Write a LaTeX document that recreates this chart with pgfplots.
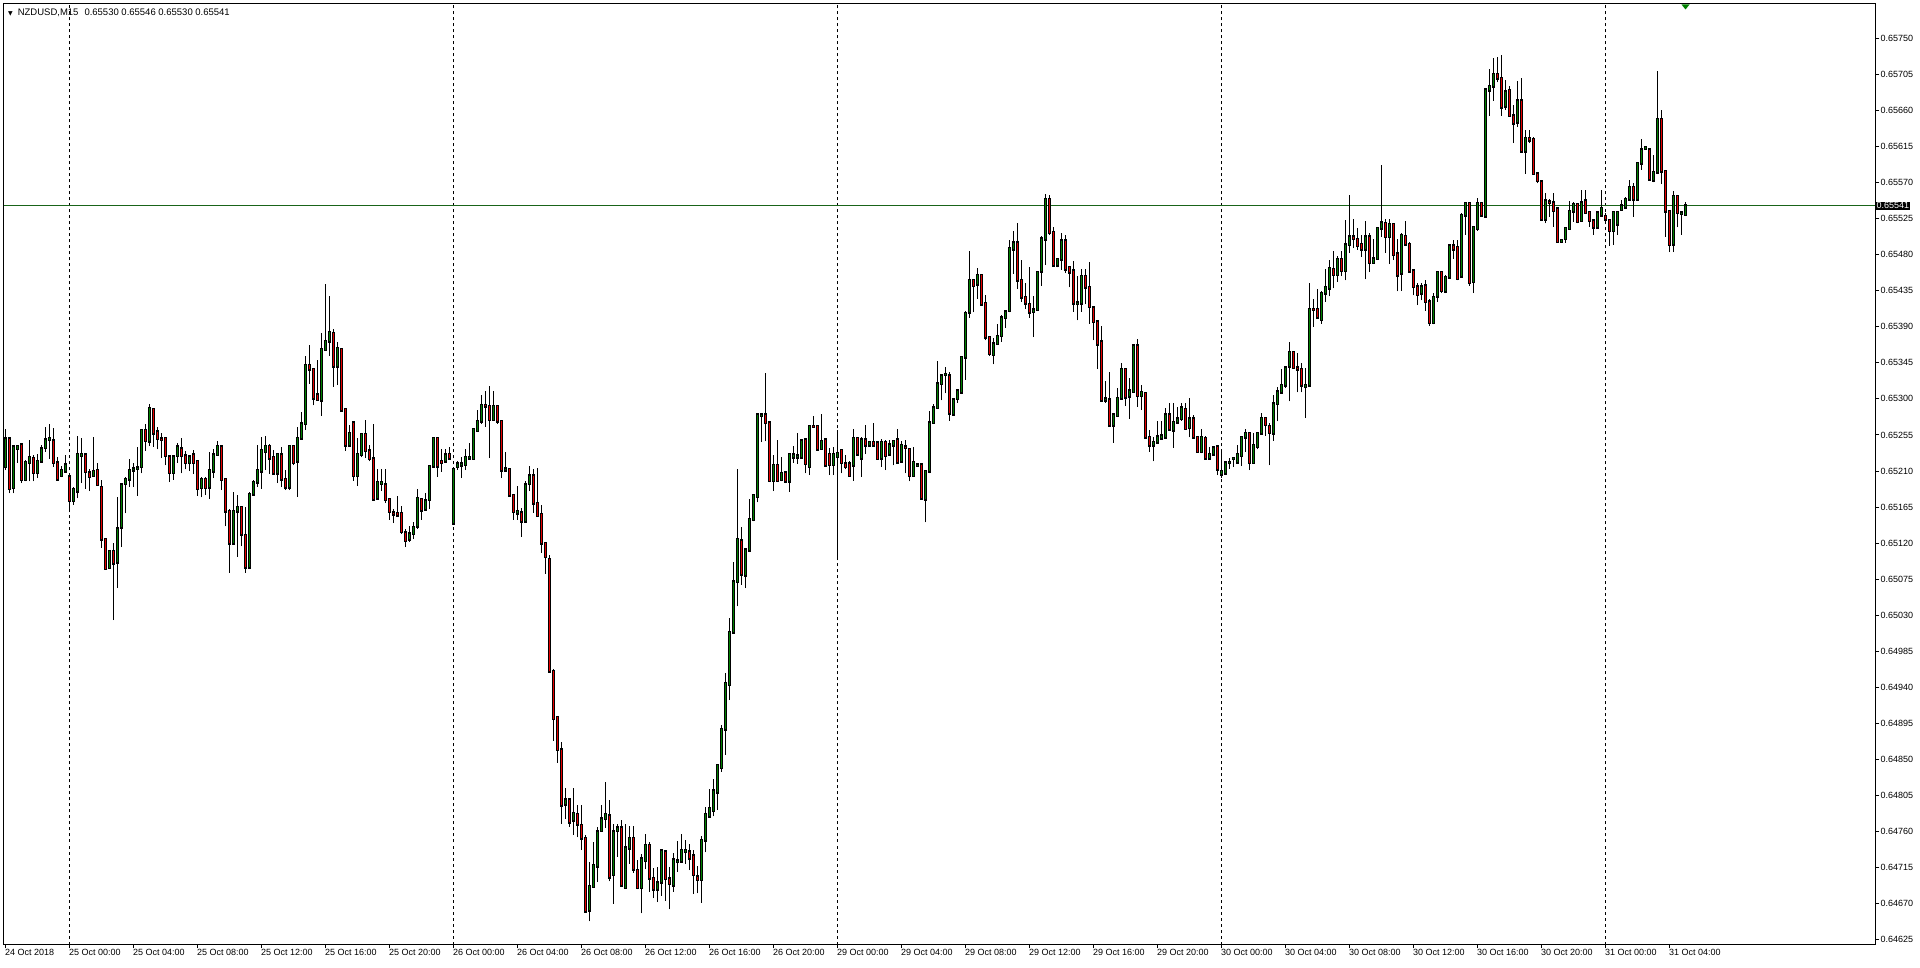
\documentclass[border=0pt]{standalone}
\usepackage{fontspec}
\setmainfont{Liberation Sans}
\newfontfamily\symfont{DejaVu Sans}
\usepackage{pgfplots}
\usepackage{pgfplotstable}
\pgfplotsset{compat=1.18}
\definecolor{bull}{RGB}{0,128,0}
\definecolor{bear}{RGB}{230,0,0}
\definecolor{pline}{RGB}{25,100,25}
\pgfplotstableread{
i o h l c
-16 0.65215 0.65262 0.65211 0.65250
-15 0.65250 0.65251 0.65182 0.65188
-14 0.65189 0.65242 0.65182 0.65240
-13 0.65238 0.65243 0.65220 0.65241
-12 0.65243 0.65244 0.65195 0.65199
-11 0.65199 0.65224 0.65197 0.65221
-10 0.65220 0.65249 0.65197 0.65227
-9 0.65226 0.65230 0.65197 0.65208
-8 0.65208 0.65231 0.65201 0.65222
-7 0.65222 0.65242 0.65220 0.65238
-6 0.65239 0.65265 0.65234 0.65249
-5 0.65249 0.65269 0.65225 0.65251
-4 0.65248 0.65264 0.65215 0.65220
-3 0.65220 0.65227 0.65198 0.65200
-2 0.65204 0.65216 0.65202 0.65211
-1 0.65210 0.65230 0.65209 0.65218
0 0.65203 0.65204 0.65159 0.65173
1 0.65173 0.65190 0.65168 0.65187
2 0.65185 0.65254 0.65176 0.65231
3 0.65229 0.65251 0.65195 0.65231
4 0.65230 0.65231 0.65188 0.65209
5 0.65208 0.65212 0.65185 0.65203
6 0.65204 0.65252 0.65203 0.65210
7 0.65211 0.65220 0.65193 0.65193
8 0.65190 0.65199 0.65114 0.65125
9 0.65125 0.65127 0.65087 0.65088
10 0.65089 0.65111 0.65088 0.65110
11 0.65110 0.65120 0.65024 0.65095
12 0.65096 0.65177 0.65064 0.65138
13 0.65140 0.65195 0.65115 0.65193
14 0.65194 0.65203 0.65157 0.65200
15 0.65200 0.65225 0.65190 0.65211
16 0.65211 0.65220 0.65190 0.65213
17 0.65213 0.65240 0.65179 0.65214
18 0.65215 0.65262 0.65207 0.65261
19 0.65261 0.65269 0.65235 0.65248
20 0.65247 0.65294 0.65241 0.65288
21 0.65287 0.65288 0.65240 0.65257
22 0.65259 0.65265 0.65237 0.65250
23 0.65250 0.65257 0.65226 0.65249
24 0.65251 0.65252 0.65217 0.65229
25 0.65228 0.65229 0.65196 0.65208
26 0.65208 0.65229 0.65199 0.65228
27 0.65229 0.65245 0.65220 0.65240
28 0.65238 0.65251 0.65207 0.65229
29 0.65229 0.65235 0.65212 0.65220
30 0.65220 0.65230 0.65210 0.65228
31 0.65230 0.65236 0.65206 0.65220
32 0.65222 0.65224 0.65179 0.65188
33 0.65189 0.65202 0.65177 0.65200
34 0.65200 0.65202 0.65180 0.65189
35 0.65190 0.65234 0.65175 0.65211
36 0.65210 0.65238 0.65201 0.65230
37 0.65230 0.65247 0.65229 0.65241
38 0.65240 0.65241 0.65186 0.65199
39 0.65200 0.65201 0.65141 0.65160
40 0.65160 0.65163 0.65083 0.65120
41 0.65120 0.65184 0.65118 0.65160
42 0.65160 0.65180 0.65103 0.65165
43 0.65165 0.65166 0.65116 0.65131
44 0.65130 0.65165 0.65083 0.65090
45 0.65090 0.65184 0.65089 0.65181
46 0.65181 0.65199 0.65179 0.65196
47 0.65196 0.65242 0.65190 0.65211
48 0.65210 0.65253 0.65188 0.65236
49 0.65234 0.65254 0.65211 0.65241
50 0.65241 0.65244 0.65206 0.65226
51 0.65227 0.65236 0.65206 0.65207
52 0.65207 0.65233 0.65195 0.65231
53 0.65230 0.65240 0.65190 0.65200
54 0.65200 0.65211 0.65186 0.65190
55 0.65190 0.65242 0.65186 0.65241
56 0.65241 0.65242 0.65217 0.65220
57 0.65222 0.65265 0.65178 0.65251
58 0.65251 0.65284 0.65249 0.65269
59 0.65269 0.65354 0.65261 0.65342
60 0.65342 0.65367 0.65319 0.65337
61 0.65337 0.65338 0.65292 0.65301
62 0.65305 0.65348 0.65298 0.65299
63 0.65298 0.65382 0.65279 0.65362
64 0.65361 0.65443 0.65360 0.65372
65 0.65372 0.65428 0.65354 0.65383
66 0.65382 0.65387 0.65315 0.65341
67 0.65341 0.65371 0.65317 0.65363
68 0.65362 0.65363 0.65285 0.65286
69 0.65287 0.65288 0.65235 0.65242
70 0.65242 0.65267 0.65240 0.65257
71 0.65270 0.65272 0.65198 0.65204
72 0.65204 0.65251 0.65191 0.65231
73 0.65230 0.65257 0.65227 0.65256
74 0.65256 0.65274 0.65226 0.65235
75 0.65235 0.65242 0.65222 0.65225
76 0.65225 0.65269 0.65174 0.65175
77 0.65176 0.65212 0.65174 0.65196
78 0.65194 0.65212 0.65185 0.65196
79 0.65193 0.65212 0.65170 0.65174
80 0.65175 0.65176 0.65149 0.65159
81 0.65158 0.65162 0.65145 0.65156
82 0.65157 0.65179 0.65154 0.65155
83 0.65157 0.65166 0.65132 0.65134
84 0.65133 0.65138 0.65115 0.65123
85 0.65125 0.65141 0.65122 0.65132
86 0.65132 0.65146 0.65125 0.65140
87 0.65141 0.65188 0.65138 0.65176
88 0.65175 0.65176 0.65149 0.65161
89 0.65162 0.65182 0.65161 0.65173
90 0.65174 0.65217 0.65163 0.65216
91 0.65216 0.65252 0.65215 0.65251
92 0.65251 0.65252 0.65203 0.65216
93 0.65222 0.65237 0.65209 0.65220
94 0.65222 0.65238 0.65220 0.65230
95 0.65231 0.65240 0.65224 0.65226
96 0.65145 0.65213 0.65144 0.65212
97 0.65215 0.65222 0.65211 0.65219
98 0.65217 0.65227 0.65201 0.65219
99 0.65218 0.65238 0.65211 0.65227
100 0.65226 0.65245 0.65225 0.65227
101 0.65225 0.65263 0.65224 0.65262
102 0.65260 0.65286 0.65259 0.65272
103 0.65272 0.65305 0.65269 0.65292
104 0.65292 0.65310 0.65265 0.65291
105 0.65291 0.65316 0.65226 0.65274
106 0.65274 0.65310 0.65274 0.65291
107 0.65291 0.65292 0.65269 0.65272
108 0.65272 0.65274 0.65201 0.65211
109 0.65211 0.65234 0.65209 0.65213
110 0.65212 0.65213 0.65179 0.65180
111 0.65180 0.65181 0.65149 0.65159
112 0.65157 0.65191 0.65149 0.65160
113 0.65158 0.65164 0.65128 0.65147
114 0.65147 0.65197 0.65147 0.65193
115 0.65194 0.65216 0.65185 0.65204
116 0.65204 0.65213 0.65158 0.65170
117 0.65170 0.65214 0.65153 0.65154
118 0.65156 0.65168 0.65108 0.65120
119 0.65120 0.65121 0.65082 0.65103
120 0.65100 0.65105 0.64958 0.64960
121 0.64960 0.64963 0.64873 0.64901
122 0.64903 0.64904 0.64846 0.64862
123 0.64862 0.64872 0.64770 0.64793
124 0.64794 0.64814 0.64776 0.64800
125 0.64800 0.64802 0.64766 0.64772
126 0.64774 0.64814 0.64756 0.64783
127 0.64782 0.64793 0.64753 0.64769
128 0.64768 0.64793 0.64737 0.64752
129 0.64752 0.64756 0.64660 0.64661
130 0.64662 0.64722 0.64648 0.64692
131 0.64691 0.64747 0.64690 0.64718
132 0.64717 0.64766 0.64697 0.64760
133 0.64761 0.64793 0.64760 0.64776
134 0.64776 0.64822 0.64765 0.64782
135 0.64780 0.64799 0.64698 0.64703
136 0.64706 0.64770 0.64670 0.64760
137 0.64761 0.64769 0.64729 0.64765
138 0.64765 0.64774 0.64691 0.64693
139 0.64690 0.64769 0.64689 0.64740
140 0.64739 0.64767 0.64720 0.64752
141 0.64752 0.64767 0.64709 0.64713
142 0.64712 0.64725 0.64688 0.64690
143 0.64690 0.64732 0.64658 0.64726
144 0.64724 0.64757 0.64713 0.64743
145 0.64743 0.64747 0.64685 0.64702
146 0.64702 0.64715 0.64677 0.64688
147 0.64688 0.64716 0.64672 0.64696
148 0.64697 0.64737 0.64680 0.64736
149 0.64735 0.64736 0.64674 0.64701
150 0.64701 0.64716 0.64663 0.64695
151 0.64693 0.64733 0.64685 0.64725
152 0.64723 0.64748 0.64710 0.64724
153 0.64723 0.64757 0.64721 0.64737
154 0.64735 0.64749 0.64720 0.64737
155 0.64735 0.64744 0.64712 0.64727
156 0.64730 0.64737 0.64682 0.64706
157 0.64704 0.64717 0.64683 0.64700
158 0.64700 0.64755 0.64671 0.64749
159 0.64749 0.64791 0.64734 0.64782
160 0.64779 0.64813 0.64777 0.64789
161 0.64786 0.64826 0.64779 0.64811
162 0.64809 0.64845 0.64787 0.64843
163 0.64840 0.64893 0.64835 0.64888
164 0.64888 0.64958 0.64856 0.64945
165 0.64943 0.65027 0.64924 0.65009
166 0.65009 0.65096 0.65008 0.65072
167 0.65072 0.65213 0.65041 0.65125
168 0.65123 0.65140 0.65068 0.65081
169 0.65080 0.65113 0.65064 0.65112
170 0.65111 0.65175 0.65110 0.65150
171 0.65149 0.65180 0.65147 0.65180
172 0.65178 0.65281 0.65171 0.65280
173 0.65279 0.65281 0.65246 0.65280
174 0.65280 0.65332 0.65247 0.65270
175 0.65270 0.65271 0.65196 0.65198
176 0.65198 0.65230 0.65185 0.65217
177 0.65217 0.65249 0.65196 0.65198
178 0.65199 0.65228 0.65197 0.65207
179 0.65208 0.65209 0.65195 0.65197
180 0.65197 0.65232 0.65184 0.65231
181 0.65227 0.65241 0.65220 0.65230
182 0.65227 0.65258 0.65219 0.65229
183 0.65227 0.65250 0.65226 0.65248
184 0.65249 0.65250 0.65207 0.65219
185 0.65215 0.65267 0.65205 0.65266
186 0.65266 0.65279 0.65265 0.65265
187 0.65266 0.65267 0.65235 0.65237
188 0.65238 0.65281 0.65237 0.65247
189 0.65249 0.65250 0.65216 0.65217
190 0.65231 0.65239 0.65205 0.65218
191 0.65218 0.65240 0.65205 0.65231
192 0.65228 0.65261 0.65101 0.65232
193 0.65236 0.65237 0.65207 0.65220
194 0.65219 0.65230 0.65212 0.65215
195 0.65219 0.65222 0.65203 0.65204
196 0.65217 0.65263 0.65198 0.65251
197 0.65251 0.65253 0.65230 0.65231
198 0.65226 0.65253 0.65203 0.65249
199 0.65249 0.65267 0.65231 0.65242
200 0.65242 0.65247 0.65241 0.65246
201 0.65246 0.65270 0.65241 0.65242
202 0.65245 0.65247 0.65224 0.65225
203 0.65226 0.65250 0.65215 0.65246
204 0.65246 0.65249 0.65211 0.65229
205 0.65231 0.65249 0.65230 0.65243
206 0.65242 0.65249 0.65217 0.65247
207 0.65249 0.65263 0.65220 0.65221
208 0.65222 0.65248 0.65220 0.65242
209 0.65240 0.65249 0.65207 0.65239
210 0.65237 0.65238 0.65197 0.65204
211 0.65204 0.65240 0.65203 0.65221
212 0.65217 0.65220 0.65215 0.65218
213 0.65218 0.65219 0.65175 0.65176
214 0.65175 0.65211 0.65146 0.65210
215 0.65210 0.65285 0.65207 0.65270
216 0.65270 0.65294 0.65269 0.65289
217 0.65289 0.65347 0.65288 0.65319
218 0.65319 0.65330 0.65298 0.65329
219 0.65330 0.65340 0.65307 0.65331
220 0.65329 0.65333 0.65273 0.65282
221 0.65281 0.65301 0.65279 0.65299
222 0.65300 0.65312 0.65295 0.65310
223 0.65308 0.65354 0.65306 0.65352
224 0.65352 0.65410 0.65324 0.65407
225 0.65408 0.65485 0.65401 0.65448
226 0.65448 0.65449 0.65408 0.65441
227 0.65443 0.65463 0.65425 0.65454
228 0.65454 0.65455 0.65416 0.65418
229 0.65419 0.65430 0.65373 0.65377
230 0.65377 0.65378 0.65354 0.65356
231 0.65355 0.65376 0.65343 0.65369
232 0.65369 0.65393 0.65368 0.65378
233 0.65379 0.65405 0.65371 0.65401
234 0.65401 0.65411 0.65389 0.65409
235 0.65410 0.65498 0.65408 0.65488
236 0.65487 0.65510 0.65456 0.65495
237 0.65495 0.65520 0.65437 0.65448
238 0.65448 0.65473 0.65421 0.65427
239 0.65427 0.65444 0.65412 0.65419
240 0.65418 0.65464 0.65401 0.65408
241 0.65409 0.65428 0.65377 0.65411
242 0.65411 0.65459 0.65410 0.65458
243 0.65459 0.65503 0.65441 0.65500
244 0.65499 0.65556 0.65467 0.65549
245 0.65549 0.65554 0.65505 0.65507
246 0.65508 0.65514 0.65466 0.65467
247 0.65467 0.65475 0.65464 0.65474
248 0.65474 0.65507 0.65461 0.65497
249 0.65497 0.65505 0.65457 0.65462
250 0.65464 0.65464 0.65439 0.65458
251 0.65460 0.65472 0.65409 0.65419
252 0.65419 0.65453 0.65398 0.65420
253 0.65419 0.65462 0.65409 0.65453
254 0.65453 0.65462 0.65418 0.65439
255 0.65439 0.65471 0.65394 0.65415
256 0.65414 0.65415 0.65373 0.65396
257 0.65396 0.65399 0.65337 0.65368
258 0.65371 0.65391 0.65296 0.65298
259 0.65298 0.65322 0.65295 0.65300
260 0.65299 0.65333 0.65265 0.65267
261 0.65267 0.65281 0.65245 0.65280
262 0.65279 0.65313 0.65278 0.65301
263 0.65301 0.65345 0.65300 0.65337
264 0.65337 0.65338 0.65291 0.65302
265 0.65303 0.65326 0.65275 0.65310
266 0.65309 0.65367 0.65308 0.65366
267 0.65366 0.65375 0.65290 0.65304
268 0.65304 0.65317 0.65286 0.65308
269 0.65307 0.65308 0.65251 0.65252
270 0.65252 0.65261 0.65234 0.65242
271 0.65242 0.65253 0.65222 0.65246
272 0.65246 0.65272 0.65245 0.65253
273 0.65251 0.65272 0.65250 0.65254
274 0.65252 0.65289 0.65251 0.65280
275 0.65280 0.65295 0.65260 0.65262
276 0.65261 0.65295 0.65239 0.65271
277 0.65271 0.65290 0.65270 0.65275
278 0.65275 0.65295 0.65273 0.65289
279 0.65287 0.65295 0.65262 0.65263
280 0.65264 0.65301 0.65252 0.65275
281 0.65275 0.65280 0.65251 0.65252
282 0.65252 0.65254 0.65233 0.65234
283 0.65234 0.65263 0.65232 0.65252
284 0.65251 0.65254 0.65225 0.65226
285 0.65226 0.65240 0.65225 0.65231
286 0.65231 0.65240 0.65229 0.65239
287 0.65240 0.65240 0.65205 0.65212
288 0.65206 0.65238 0.65201 0.65210
289 0.65207 0.65220 0.65205 0.65220
290 0.65220 0.65226 0.65213 0.65221
291 0.65225 0.65227 0.65215 0.65226
292 0.65221 0.65242 0.65220 0.65231
293 0.65229 0.65253 0.65216 0.65252
294 0.65252 0.65263 0.65234 0.65257
295 0.65257 0.65259 0.65211 0.65220
296 0.65220 0.65258 0.65219 0.65242
297 0.65240 0.65258 0.65237 0.65257
298 0.65257 0.65282 0.65256 0.65276
299 0.65276 0.65277 0.65254 0.65268
300 0.65266 0.65270 0.65217 0.65258
301 0.65257 0.65305 0.65248 0.65294
302 0.65294 0.65315 0.65272 0.65309
303 0.65308 0.65337 0.65307 0.65317
304 0.65317 0.65339 0.65314 0.65339
305 0.65341 0.65371 0.65297 0.65358
306 0.65358 0.65359 0.65338 0.65339
307 0.65339 0.65357 0.65308 0.65337
308 0.65337 0.65345 0.65308 0.65317
309 0.65315 0.65338 0.65276 0.65317
310 0.65317 0.65445 0.65316 0.65412
311 0.65412 0.65425 0.65390 0.65411
312 0.65412 0.65437 0.65400 0.65402
313 0.65399 0.65435 0.65394 0.65432
314 0.65432 0.65462 0.65421 0.65439
315 0.65438 0.65473 0.65428 0.65463
316 0.65462 0.65485 0.65438 0.65455
317 0.65455 0.65478 0.65446 0.65474
318 0.65474 0.65484 0.65453 0.65460
319 0.65460 0.65523 0.65448 0.65492
320 0.65492 0.65554 0.65482 0.65502
321 0.65502 0.65524 0.65488 0.65500
322 0.65499 0.65513 0.65486 0.65491
323 0.65493 0.65505 0.65477 0.65487
324 0.65487 0.65522 0.65449 0.65502
325 0.65502 0.65507 0.65458 0.65470
326 0.65470 0.65500 0.65470 0.65475
327 0.65475 0.65515 0.65474 0.65513
328 0.65513 0.65592 0.65502 0.65520
329 0.65519 0.65524 0.65482 0.65502
330 0.65502 0.65524 0.65468 0.65518
331 0.65518 0.65520 0.65473 0.65480
332 0.65481 0.65500 0.65434 0.65454
333 0.65457 0.65507 0.65435 0.65504
334 0.65503 0.65522 0.65491 0.65493
335 0.65493 0.65496 0.65457 0.65459
336 0.65460 0.65461 0.65429 0.65440
337 0.65440 0.65444 0.65417 0.65430
338 0.65432 0.65444 0.65423 0.65440
339 0.65441 0.65448 0.65410 0.65421
340 0.65421 0.65424 0.65391 0.65395
341 0.65395 0.65432 0.65393 0.65427
342 0.65428 0.65459 0.65421 0.65458
343 0.65458 0.65459 0.65432 0.65435
344 0.65434 0.65455 0.65432 0.65452
345 0.65452 0.65492 0.65450 0.65491
346 0.65491 0.65498 0.65475 0.65487
347 0.65489 0.65498 0.65448 0.65450
348 0.65453 0.65532 0.65452 0.65529
349 0.65529 0.65545 0.65505 0.65544
350 0.65544 0.65545 0.65441 0.65445
351 0.65446 0.65515 0.65432 0.65514
352 0.65512 0.65551 0.65510 0.65544
353 0.65544 0.65545 0.65527 0.65529
354 0.65528 0.65688 0.65527 0.65686
355 0.65685 0.65712 0.65653 0.65690
356 0.65690 0.65725 0.65672 0.65705
357 0.65705 0.65727 0.65695 0.65700
358 0.65700 0.65729 0.65653 0.65664
359 0.65665 0.65698 0.65661 0.65683
360 0.65685 0.65690 0.65652 0.65653
361 0.65653 0.65667 0.65619 0.65644
362 0.65645 0.65696 0.65639 0.65672
363 0.65672 0.65700 0.65608 0.65609
364 0.65609 0.65636 0.65581 0.65625
365 0.65625 0.65636 0.65619 0.65623
366 0.65624 0.65627 0.65581 0.65581
367 0.65581 0.65582 0.65569 0.65572
368 0.65571 0.65573 0.65523 0.65524
369 0.65524 0.65557 0.65519 0.65547
370 0.65546 0.65550 0.65527 0.65545
371 0.65545 0.65557 0.65515 0.65535
372 0.65537 0.65538 0.65495 0.65496
373 0.65496 0.65500 0.65495 0.65498
374 0.65500 0.65514 0.65495 0.65513
375 0.65512 0.65547 0.65511 0.65534
376 0.65534 0.65546 0.65521 0.65543
377 0.65543 0.65544 0.65519 0.65521
378 0.65522 0.65561 0.65521 0.65545
379 0.65547 0.65560 0.65531 0.65532
380 0.65533 0.65534 0.65515 0.65522
381 0.65522 0.65525 0.65505 0.65514
382 0.65514 0.65534 0.65513 0.65532
383 0.65529 0.65561 0.65527 0.65538
384 0.65528 0.65532 0.65521 0.65524
385 0.65523 0.65524 0.65491 0.65510
386 0.65510 0.65534 0.65492 0.65533
387 0.65518 0.65534 0.65505 0.65533
388 0.65536 0.65548 0.65535 0.65541
389 0.65539 0.65552 0.65538 0.65549
390 0.65549 0.65573 0.65548 0.65564
391 0.65564 0.65569 0.65527 0.65549
392 0.65549 0.65596 0.65547 0.65594
393 0.65594 0.65624 0.65586 0.65611
394 0.65612 0.65615 0.65611 0.65614
395 0.65611 0.65613 0.65573 0.65574
396 0.65573 0.65604 0.65570 0.65583
397 0.65583 0.65709 0.65582 0.65649
398 0.65649 0.65661 0.65568 0.65584
399 0.65584 0.65584 0.65502 0.65534
400 0.65534 0.65535 0.65483 0.65492
401 0.65493 0.65559 0.65483 0.65553
402 0.65553 0.65554 0.65514 0.65532
403 0.65531 0.65533 0.65505 0.65532
404 0.65530 0.65546 0.65530 0.65541
}\candles
\begin{document}
\begin{tikzpicture}[x=1pt,y=1pt]
\useasboundingbox (0,0) rectangle (1920,967);
\fill[white] (0,0) rectangle (1920,967);
\begin{axis}[
  at={(3.5pt,22.5pt)}, anchor=south west,
  scale only axis, width=1872pt, height=941pt,
  xmin=-16.5, xmax=451.5, ymin=0.646192, ymax=0.6579333,
  axis line style={black, line width=1pt},
  tick align=outside, major tick length=4pt,
  tick style={black, line width=1pt},
  xtick pos=left, ytick pos=right, yticklabel pos=right,
  xtick={-16,0,16,32,48,64,80,96,112,128,144,160,176,192,208,224,240,256,272,288,304,320,336,352,368,384,400},
  xticklabels={24 Oct 2018,25 Oct 00:00,25 Oct 04:00,25 Oct 08:00,25 Oct 12:00,25 Oct 16:00,25 Oct 20:00,26 Oct 00:00,26 Oct 04:00,26 Oct 08:00,26 Oct 12:00,26 Oct 16:00,26 Oct 20:00,29 Oct 00:00,29 Oct 04:00,29 Oct 08:00,29 Oct 12:00,29 Oct 16:00,29 Oct 20:00,30 Oct 00:00,30 Oct 04:00,30 Oct 08:00,30 Oct 12:00,30 Oct 16:00,30 Oct 20:00,31 Oct 00:00,31 Oct 04:00},
  xticklabel style={anchor=north west, xshift=-1.5pt, inner sep=1pt, font=\fontsize{9}{10}\selectfont},
  ytick={0.64625,0.64670,0.64715,0.64760,0.64805,0.64850,0.64895,0.64940,0.64985,0.65030,0.65075,0.65120,0.65165,0.65210,0.65255,0.65300,0.65345,0.65390,0.65435,0.65480,0.65525,0.65570,0.65615,0.65660,0.65705,0.65750},
  yticklabels={0.64625,0.64670,0.64715,0.64760,0.64805,0.64850,0.64895,0.64940,0.64985,0.65030,0.65075,0.65120,0.65165,0.65210,0.65255,0.65300,0.65345,0.65390,0.65435,0.65480,0.65525,0.65570,0.65615,0.65660,0.65705,0.65750},
  yticklabel style={anchor=west, inner sep=1pt, xshift=0pt, font=\fontsize{9}{10}\selectfont},
  extra x ticks={0,96,192,288,384},
  extra x tick style={grid=major, major grid style={black, line width=1pt, dash pattern=on 3pt off 3pt}, xticklabel={}, major tick length=0pt},
  extra y ticks={0.65541},
  extra y tick labels={0.65541},
  extra y tick style={grid=major, major grid style={pline, line width=1pt}, tick label style={fill=black, text=white, inner xsep=3pt, inner ysep=1.5pt, xshift=-4pt}},
  axis background/.style={fill=white},
]
% wicks
\addplot[draw=none, mark=none, error bars/.cd, y dir=plus, y explicit, error mark=none,
  error bar style={draw=black, line width=1pt}]
  table[x=i, y=l, y error expr={\thisrow{h}-\thisrow{l}}] {\candles};
% body outlines
\addplot[draw=none, mark=none, error bars/.cd, y dir=plus, y explicit, error mark=none,
  error bar style={draw=black, line width=3pt, line cap=rect}]
  table[x=i, y expr={min(\thisrow{o},\thisrow{c})}, y error expr={abs(\thisrow{c}-\thisrow{o})}] {\candles};
% bullish interiors
\addplot[draw=none, mark=none, restrict expr to domain={\thisrow{c}-\thisrow{o}}{0:1},
  error bars/.cd, y dir=plus, y explicit, error mark=none,
  error bar style={draw=bull, line width=1pt}]
  table[x=i, y=o, y error expr={\thisrow{c}-\thisrow{o}}] {\candles};
% bearish interiors
\addplot[draw=none, mark=none, restrict expr to domain={\thisrow{o}-\thisrow{c}}{0.000001:1},
  error bars/.cd, y dir=plus, y explicit, error mark=none,
  error bar style={draw=bear, line width=1pt}]
  table[x=i, y=c, y error expr={\thisrow{o}-\thisrow{c}}] {\candles};
\end{axis}
\node[anchor=west, inner sep=0pt, font=\fontsize{9.5}{10}\selectfont] at (8,954)
  {{\symfont\fontsize{6}{6}\selectfont ▼}\hspace{5pt}NZDUSD,M15\hspace{6pt}0.65530 0.65546 0.65530 0.65541};
\fill[bull] (1681.5,962.5) -- (1689.5,962.5) -- (1685.5,957.5) -- cycle;
\end{tikzpicture}
\end{document}
